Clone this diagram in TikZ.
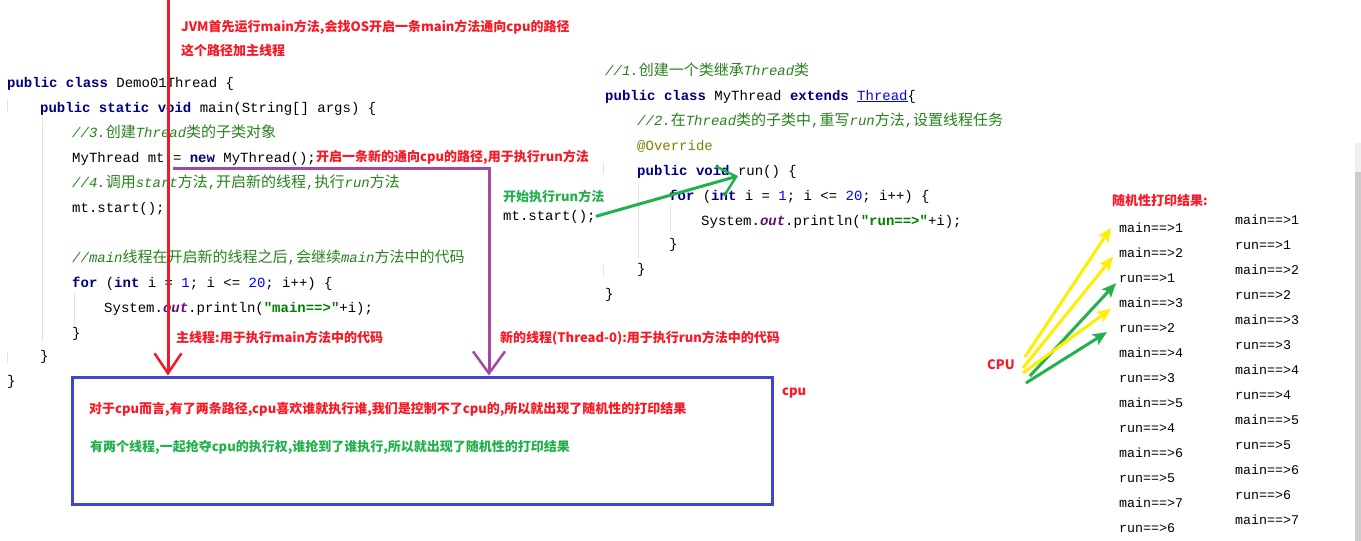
\documentclass[tikz,border=0pt]{standalone}
\usepackage{fontspec}
\setmonofont{Liberation Mono}
\newfontfamily\cjk{Noto Sans CJK SC}
\usetikzlibrary{arrows.meta}

\definecolor{notered}{RGB}{250,24,36}
\definecolor{notegreen}{RGB}{34,177,76}
\definecolor{arrowred}{RGB}{237,28,36}
\definecolor{arrowpurple}{RGB}{163,73,164}
\definecolor{arrowgreen}{RGB}{34,177,76}
\definecolor{arrowyellow}{RGB}{255,238,0}
\definecolor{boxblue}{RGB}{63,72,204}
\definecolor{kwnavy}{RGB}{0,0,128}
\definecolor{cmtgreen}{RGB}{40,130,30}
\definecolor{strgreen}{RGB}{0,128,0}
\definecolor{numblue}{RGB}{0,0,255}
\definecolor{outpurple}{RGB}{102,14,122}
\definecolor{annolive}{RGB}{128,128,0}
\definecolor{guidegray}{RGB}{226,226,226}
\definecolor{scrolltop}{RGB}{240,240,240}
\definecolor{scrollbar}{RGB}{205,205,205}

\newcommand\codefont{\ttfamily\fontsize{14}{16}\selectfont}
\newcommand\notefont{\cjk\bfseries\fontsize{13}{15}\selectfont}
\newcommand\outfont{\ttfamily\fontsize{13.3}{15}\selectfont}
\newcommand\kw[1]{{\bfseries\color{kwnavy}#1}}
\newcommand\cm[1]{{\itshape\color{cmtgreen}#1}}
\newcommand\cz[1]{{\cjk\fontsize{15}{17}\selectfont\color{cmtgreen}#1}}
\newcommand\cmcomma{{\color{cmtgreen},}}
\newcommand\num[1]{{\color{numblue}#1}}
\newcommand\str[1]{{\bfseries\color{strgreen}#1}}
\newcommand\fld[1]{{\bfseries\itshape\color{outpurple}#1}}

\begin{document}
\begin{tikzpicture}[x=1pt, y=-1pt,
		code/.style={anchor=base west, inner sep=0pt, font=\codefont},
		note/.style={anchor=base west, inner sep=0pt, font=\notefont, text=notered},
		output/.style={anchor=base west, inner sep=0pt, font=\outfont},
		guide/.style={draw=guidegray, line width=1pt},
		threadbox/.style={draw=boxblue, line width=3pt, minimum width=700pt, minimum height=127pt, inner sep=0pt},
		mainpath/.style={draw=arrowred, line width=3pt, -{Straight Barb[length=20pt,width=27pt,line width=2.5pt]}},
		newpath/.style={draw=arrowpurple, line width=3pt, -{Straight Barb[length=22pt,width=32pt,line width=2.5pt]}},
		runpath/.style={draw=arrowgreen, line width=3pt, -{Straight Barb[length=17pt,width=31pt,line width=2.5pt]}},
		yelarrow/.style={draw=arrowyellow, line width=3pt, -{Stealth[length=14pt,width=12pt,inset=3pt]}},
		grnarrow/.style={draw=arrowgreen, line width=3pt, -{Stealth[length=14pt,width=12pt,inset=3pt]}},
		]
		
		\useasboundingbox (0,0) rectangle (1361,541);
		\fill[white] (0,0) rectangle (1361,541);
		
		% indent guides
		\draw[guide] (7,100) -- (7,112);
		\draw[guide] (7,352) -- (7,363);
		\draw[guide] (42,117) -- (42,342);
		\draw[guide] (74,293) -- (74,327);
		\draw[guide] (603,163) -- (603,174);
		\draw[guide] (603,265) -- (603,276);
		\draw[guide] (638,183) -- (638,258);
		\draw[guide] (670,205) -- (670,232);
		
		% main class
		\node[code] (democls) at (7,87) {\kw{public class} Demo01Thread \{};
		\node[code] (mainsig) at (40,112) {\kw{public static void} main(String[] args) \{};
		\node[code] (cmt3) at (72,137) {\cm{//3.}\cz{创建}\cm{Thread}\cz{类的子类对象}};
		\node[code] (newobj) at (72,162) {MyThread mt = \kw{new} MyThread();};
		\node[code] (cmt4) at (72,187) {\cm{//4.}\cz{调用}\cm{start}\cz{方法}\cmcomma\cz{开启新的线程}\cmcomma\cz{执行}\cm{run}\cz{方法}};
		\node[code] (callmain) at (72,212) {mt.start();};
		\node[code] (cmtmain) at (72,262) {\cm{//main}\cz{线程在开启新的线程之后}\cmcomma\cz{会继续}\cm{main}\cz{方法中的代码}};
		\node[code] (loopmain) at (72,287) {\kw{for} (\kw{int} i = \num{1}; i <= \num{20}; i++) \{};
		\node[code] (printmain) at (104,312) {System.\fld{out}.println(\str{"main==>"}+i);};
		\node[code] (loopend) at (72,337) {\}};
		\node[code] (mainend) at (40,360) {\}};
		\node[code] (demoend) at (7,385) {\}};
		
		% thread class
		\node[code] (cmt1) at (605,75) {\cm{//1.}\cz{创建一个类继承}\cm{Thread}\cz{类}};
		\node[code] (mycls) at (605,100) {\kw{public class} MyThread \kw{extends} {\color{numblue}\underline{Thread}}\{};
		\node[code] (cmt2) at (637,125) {\cm{//2.}\cz{在}\cm{Thread}\cz{类的子类中}\cmcomma\cz{重写}\cm{run}\cz{方法}\cmcomma\cz{设置线程任务}};
		\node[code, text=annolive] (override) at (637,150) {@Override};
		\node[code] (runsig) at (637,175) {\kw{public void} run() \{};
		\node[code] (looprun) at (669,200) {\kw{for} (\kw{int} i = \num{1}; i <= \num{20}; i++) \{};
		\node[code] (printrun) at (701,225) {System.\fld{out}.println(\str{"run==>"}+i);};
		\node[code] (looprunend) at (669,248) {\}};
		\node[code] (runend) at (637,273) {\}};
		\node[code] (myclsend) at (605,298) {\}};
		\node[code] (callrun) at (503,220) {mt.start();};
		\node[note, text=notegreen] (startlbl) at (503,201) {开始执行run方法};
		
		% notes
		\node[note] (jvmnote) at (181,31) {JVM首先运行main方法,会找OS开启一条main方法通向cpu的路径};
		\node[note] (pathnote) at (181,55) {这个路径加主线程};
		\node[note] (newnote) at (316,161) {开启一条新的通向cpu的路径,用于执行run方法};
		\node[note] (mainnote) at (176,342) {主线程:用于执行main方法中的代码};
		\node[note] (thrnote) at (500,342) {新的线程(Thread-0):用于执行run方法中的代码};
		\node[note] (cpunote) at (782,395) {cpu};
		\node[note] (randnote) at (1112,205) {随机性打印结果:};
		\node[note, anchor=west] (cpu) at (987,365) {CPU};
		
		% cpu box
		\node[threadbox] (cpubox) at (422,440.5) {};
		\node[note] (cpuwhy) at (89,413) {对于cpu而言,有了两条路径,cpu喜欢谁就执行谁,我们是控制不了cpu的,所以就出现了随机性的打印结果};
		\node[note, text=notegreen] (threadwhy) at (90,451) {有两个线程,一起抢夺cpu的执行权,谁抢到了谁执行,所以就出现了随机性的打印结果};
		
		% paths
		\coordinate (mainsrc) at (168,0);
		\draw[mainpath] (mainsrc) -- (mainsrc |- cpubox.north);
		\coordinate (newsrc) at (173,168);
		\coordinate (newbend) at (489,168);
		\draw[newpath] (newsrc) -- (newbend) -- (newbend |- cpubox.north);
		\coordinate (runhead) at (738,176);
		\draw[runpath] (callrun.east) -- (runhead);
		
		% printed results
		\foreach \t [count=\i] in {main==>1,main==>2,run==>1,main==>3,run==>2,main==>4,run==>3,main==>5,run==>4,main==>6,run==>5,main==>7,run==>6}
			\node[output] (o\i) at (1119,207.5+25*\i) {\t};
		\foreach \t [count=\i] in {main==>1,run==>1,main==>2,run==>2,main==>3,run==>3,main==>4,run==>4,main==>5,run==>5,main==>6,run==>6,main==>7}
			\node[output] (p\i) at (1235,199.5+25*\i) {\t};
		
		\draw[yelarrow] ([shift={(10,-8)}]cpu.east) -- ([shift={(-8,0)}]o1.west);
		\draw[yelarrow] ([shift={(8,3)}]cpu.east) -- ([shift={(-6,4)}]o2.west);
		\draw[grnarrow] ([shift={(15,11)}]cpu.east) -- ([shift={(-3,5)}]o3.west);
		\draw[yelarrow] ([shift={(8,8)}]cpu.east) -- ([shift={(-8,6)}]o4.west);
		\draw[grnarrow] ([shift={(11,18)}]cpu.east) -- ([shift={(-12,4)}]o5.west);
		
		% scrollbar
		\fill[scrolltop] (1355,143) rectangle (1361,172);
		\fill[scrollbar] (1355,172) rectangle (1361,541);
		\end{tikzpicture}
\end{document}
